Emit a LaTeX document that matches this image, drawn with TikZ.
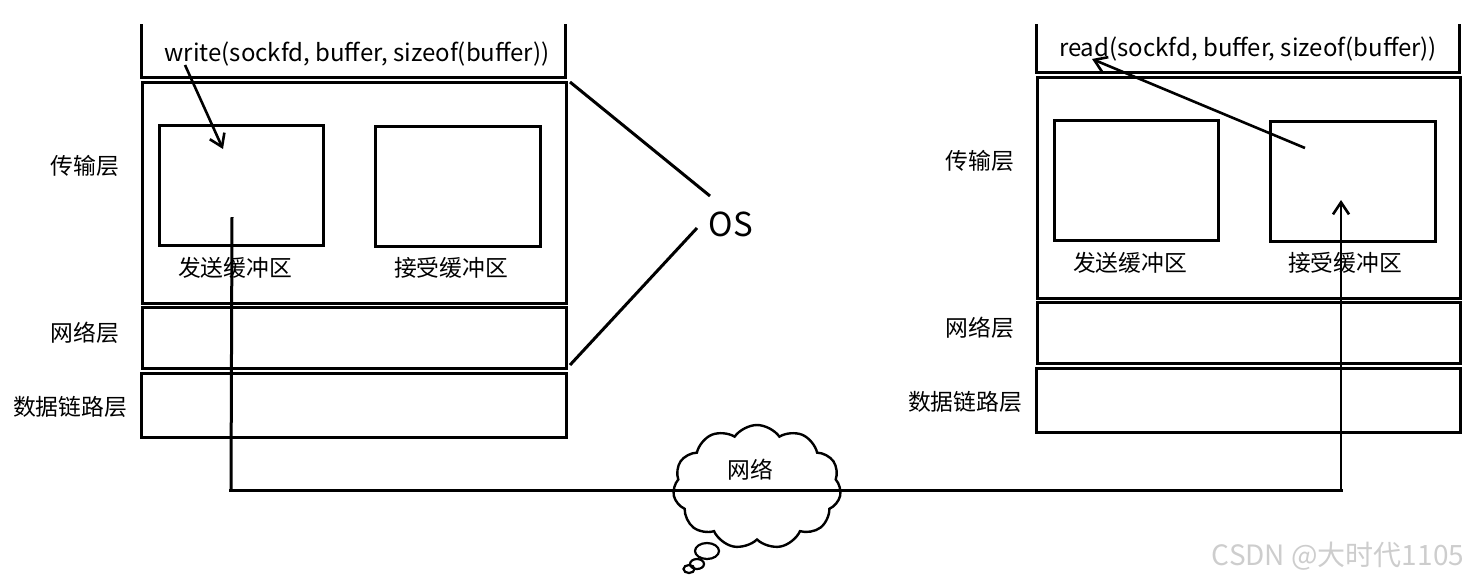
\documentclass[tikz,border=0pt]{standalone}
\usepackage{fontspec}
\setmainfont{Noto Sans CJK SC}
\usetikzlibrary{shapes.symbols,arrows.meta}
\definecolor{wm}{RGB}{205,205,205}
\tikzset{
  ln/.style={line width=3pt},
  box/.style={draw,line width=3pt,rectangle,inner sep=0pt,anchor=north west},
  lbl/.style={font=\fontsize{22.8}{26}\selectfont,inner sep=0pt},
  fn/.style={font=\fontsize{24}{28}\selectfont,inner sep=0pt},
  arr/.style={line width=2.6pt,-{Straight Barb[length=12pt,width=16pt,line width=2.6pt]}},
}
\begin{document}
\begin{tikzpicture}[x=1pt,y=-1pt]
\useasboundingbox (0,0) rectangle (1472,582);
% ---------- left host ----------
\draw[ln] (141,24) -- (141,77) -- (565,77) -- (565,24);
\node[fn] (wr) at (357,54) {write(sockfd, buffer, sizeof(buffer))};
\node[box,minimum width=424pt,minimum height=221pt] (lt) at (141,81) {};
\node[box,minimum width=164pt,minimum height=120pt] (lsb) at (158,124) {};
\node[box,minimum width=165pt,minimum height=120pt] (lrb) at (374,125) {};
\node[lbl] at (235,268) {发送缓冲区};
\node[lbl] at (451,268) {接受缓冲区};
\node[lbl] at (85,166) {传输层};
\node[box,minimum width=424pt,minimum height=61pt] (ln) at (141,306) {};
\node[lbl] at (85,333) {网络层};
\node[box,minimum width=425pt,minimum height=64pt] (ldl) at (140,372) {};
\node[lbl] at (70,407) {数据链路层};
\coordinate (ws) at (185,65);
\coordinate (we) at (223,149);
\draw[arr] (ws) -- (we);
% ---------- OS ----------
\node[font=\fontsize{33}{36}\selectfont,inner sep=0pt] (os) at (731,224) {OS};
\draw[ln] (570,82) -- (710,196);
\draw[ln] (697,228) -- (570,365);
% ---------- right host ----------
\draw[ln] (1036,24) -- (1036,72) -- (1459,72) -- (1459,24);
\node[fn] (rd) at (1248,49) {read(sockfd, buffer, sizeof(buffer))};
\node[box,minimum width=423pt,minimum height=221pt] (rt) at (1036,76) {};
\node[box,minimum width=164pt,minimum height=120pt] (rsb) at (1053,119) {};
\node[box,minimum width=165pt,minimum height=120pt] (rrb) at (1269,120) {};
\node[lbl] at (1130,263) {发送缓冲区};
\node[lbl] at (1345,263) {接受缓冲区};
\node[lbl] at (980,161) {传输层};
\node[box,minimum width=423pt,minimum height=61pt] (rn) at (1036,301) {};
\node[lbl] at (980,328) {网络层};
\node[box,minimum width=424pt,minimum height=64pt] (rdl) at (1035,367) {};
\node[lbl] at (965,402) {数据链路层};
\coordinate (rs) at (1305,148);
\coordinate (re) at (1092,59);
\draw[arr] (rs) -- (re);
% ---------- network ----------
\node[cloud,draw,line width=2.4pt,cloud puffs=11,cloud puff arc=110,aspect=1.4,minimum width=168pt,minimum height=124pt,inner sep=0pt] (cl) at (757,487) {};
\node[lbl] at (750,470) {网络};
\draw[line width=2.2pt] (707,551) ellipse (12pt and 8pt);
\draw[line width=2.2pt] (697,564) ellipse (7pt and 5pt);
\draw[line width=2.2pt] (689,569) ellipse (5.5pt and 4pt);
\coordinate (a1) at (232,217);
\coordinate (a2) at (231,490);
\coordinate (b1) at (1341,490);
\coordinate (b2) at (1341,200);
\draw[ln] (a1) -- (a2);
\draw[ln] (229,490) -- (1343,490);
\draw[arr] (b1) -- (b2);
% watermark
\node[font=\fontsize{28}{32}\selectfont,text=wm,inner sep=0pt] at (1338,556) {CSDN @大时代1105};
\end{tikzpicture}
\end{document}
